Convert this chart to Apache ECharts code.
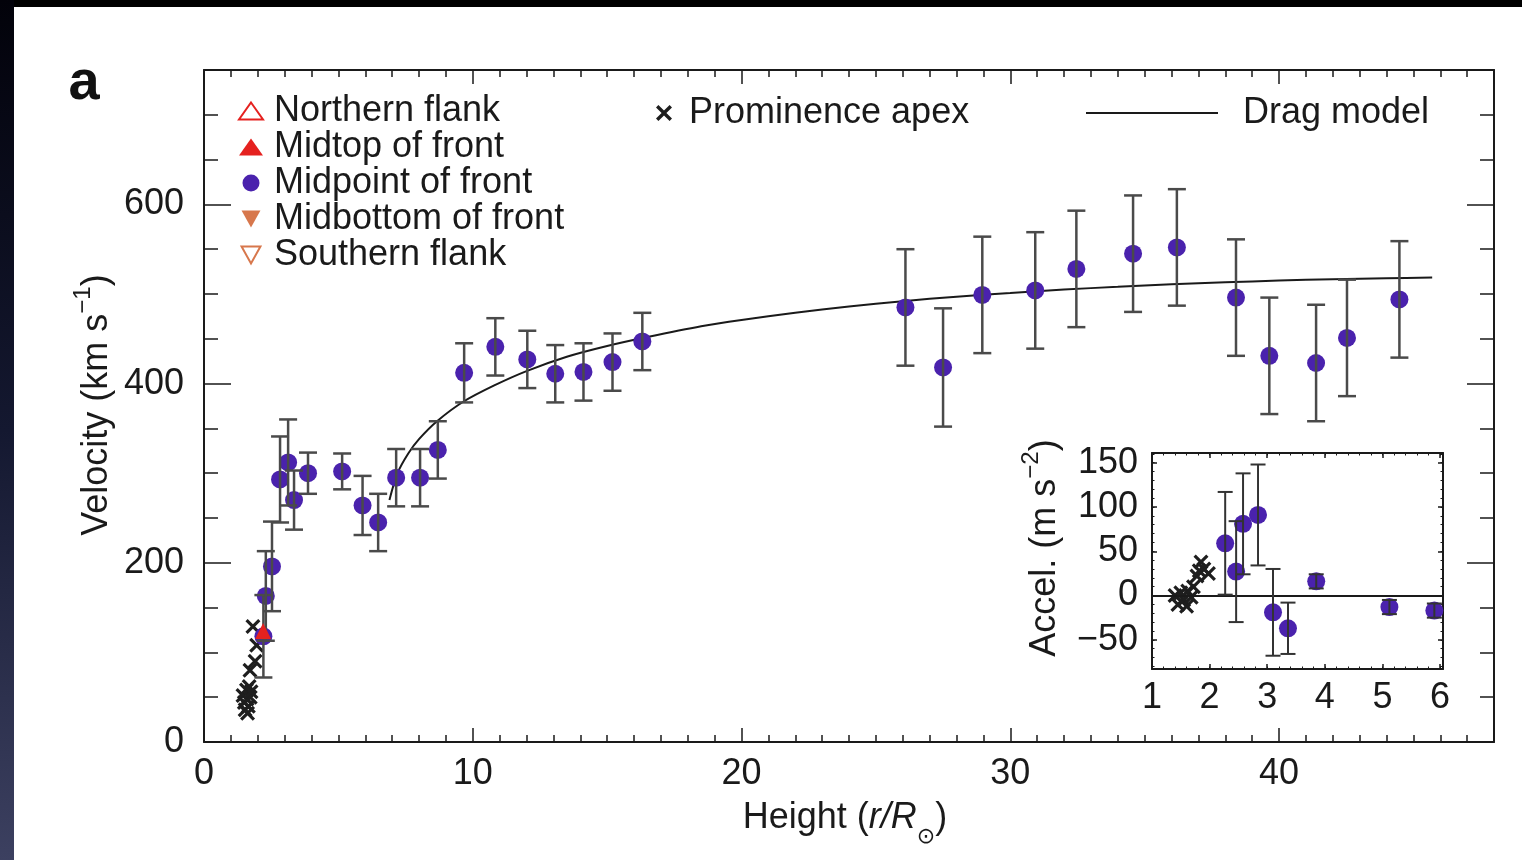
<!DOCTYPE html>
<html><head><meta charset="utf-8">
<script src="https://cdn.jsdelivr.net/npm/echarts@6/dist/echarts.min.js"></script>
<style>html,body{margin:0;padding:0;background:#fff}#c{width:1522px;height:860px}</style>
</head><body><div id="c"></div>
<script>
// ---------- data ----------
const midHeight = [2.21, 2.3, 2.53, 2.83, 3.13, 3.35, 3.87, 5.14, 5.9, 6.48, 7.15, 8.04, 8.7, 9.68, 10.84, 12.03, 13.07, 14.12, 15.2, 16.31, 26.1, 27.5, 28.96, 30.93, 32.46, 34.57, 36.2, 38.4, 39.64, 41.38, 42.53, 44.48];
const midVel    = [118, 163, 196, 293, 312, 270, 300, 302, 264, 245, 295, 295, 326, 412, 441, 427, 411, 413, 424, 447, 485, 418, 499, 504, 528, 545, 552, 496, 431, 423, 451, 494];
const midVelErr = [46, 50, 50, 48, 48, 33, 23, 20, 33, 32, 32, 32, 32, 33, 32, 32, 32, 32, 32, 32, 65, 66, 65, 65, 65, 65, 65, 65, 65, 65, 65, 65];

const midtopHeight = [2.2];
const midtopVel = [124];

const apexHeight = [1.45, 1.5, 1.53, 1.58, 1.6, 1.65, 1.68, 1.72, 1.75, 1.62, 1.71, 1.9, 1.96, 1.82];
const apexVel    = [52, 44, 36, 58, 48, 40, 62, 50, 56, 32, 80, 90, 108, 129];

const dragHeight = [6.9, 7.2, 7.6, 8.0, 8.67, 9.66, 10.8, 12.0, 13.5, 15.0, 16.5, 18.5, 20, 22, 24, 26, 28, 30, 32, 34, 36, 38, 40, 42, 44, 45.7];
const dragVel    = [270, 300, 322, 338, 358, 380, 398, 414, 430, 442, 452, 464, 471, 479, 486, 492, 497, 501, 505, 508, 511, 513, 515, 516.5, 517.5, 518.5];

const accHeight = [2.27, 2.46, 2.58, 2.84, 3.10, 3.36, 3.85, 5.12, 5.90];
const accVal    = [59, 27, 81, 91, -19, -37, 16, -13, -17];
const accErr    = [58, 57, 57, 57, 49, 29, 8, 8, 8];

const accApexHeight = [1.40, 1.45, 1.5, 1.55, 1.6, 1.62, 1.68, 1.72, 1.78, 1.85, 1.9, 1.98, 1.82];
const accApexVal    = [0, -10, 3, -5, -12, 5, -2, 10, 22, 38, 30, 25, 28];

const velTickLabels = [0, 200, 400, 600];
const heightTickLabels = [0, 10, 20, 30, 40];
const insetXTickLabels = [1, 2, 3, 4, 5, 6];
const insetYTickLabels = [-50, 0, 50, 100, 150];
const insetYMinorTicks = [-80, -70, -60, -50, -40, -30, -20, -10, 0, 10, 20, 30, 40, 50, 60, 70, 80, 90, 100, 110, 120, 130, 140, 150, 160];

// ---------- styling ----------
const FONT = "'Liberation Sans', Arial, Helvetica, sans-serif";
const INK = '#1a1a1a';
const PURPLE = '#4a22ad';
const RED = '#e5211f';
const ORANGE = '#d7774c';
const DOWN_TRI = 'path://M0,0L10,0L5,9Z';
const CROSS = 'path://M1.5,0L5,3.5L8.5,0L10,1.5L6.5,5L10,8.5L8.5,10L5,6.5L1.5,10L0,8.5L3.5,5L0,1.5Z';

const zip = (a, b) => a.map((v, i) => [v, b[i]]);
const zip3 = (a, b, c) => a.map((v, i) => [v, b[i], c[i]]);

function errRender(capW, lw, color) {
  return function (params, api) {
    const x = api.value(0), y = api.value(1), e = api.value(2);
    const t = api.coord([x, y + e]);
    const b = api.coord([x, y - e]);
    const st = { stroke: color, lineWidth: lw };
    return { type: 'group', children: [
      { type: 'line', shape: { x1: t[0], y1: t[1], x2: b[0], y2: b[1] }, style: st },
      { type: 'line', shape: { x1: t[0] - capW / 2, y1: t[1], x2: t[0] + capW / 2, y2: t[1] }, style: st },
      { type: 'line', shape: { x1: b[0] - capW / 2, y1: b[1], x2: b[0] + capW / 2, y2: b[1] }, style: st }
    ]};
  };
}

function ax(base, o) { return Object.assign({ type: 'value', splitLine: { show: false } }, base, o); }
const lineOn = { show: true, onZero: false, lineStyle: { color: INK, width: 2 } };
const lineOff = { show: false, onZero: false };
const noLabel = { show: false };
function ticks(len, extra) { return Object.assign({ show: true, inside: true, length: len, interval: 0, lineStyle: { color: INK, width: 1.5 } }, extra || {}); }

const mainX = { gridIndex: 0, min: 0, max: 48 };
const mainY = { gridIndex: 0, min: 0, max: 750 };
const insX = { gridIndex: 1, min: 1, max: 6.05 };
const insY = { gridIndex: 1, min: -83, max: 161 };

const labelStyle = { fontSize: 36, color: INK, fontFamily: FONT };

const xAxes = [
  ax(mainX, { position: 'bottom', interval: 1, axisLine: lineOn, axisTick: ticks(7),
    axisLabel: Object.assign({ show: true, margin: 14, formatter: v => heightTickLabels.indexOf(v) >= 0 ? String(v) : '' }, labelStyle) }),
  ax(mainX, { position: 'bottom', interval: 10, axisLine: lineOff, axisTick: ticks(14), axisLabel: noLabel }),
  ax(mainX, { position: 'top', interval: 1, axisLine: lineOn, axisTick: ticks(7), axisLabel: noLabel }),
  ax(mainX, { position: 'top', interval: 10, axisLine: lineOff, axisTick: ticks(14), axisLabel: noLabel }),
  ax(insX, { position: 'bottom', interval: 1, axisLine: lineOn, axisTick: ticks(5),
    axisLabel: Object.assign({ show: true, margin: 11, formatter: v => insetXTickLabels.indexOf(v) >= 0 ? String(v) : '' }, labelStyle) }),
  ax(insX, { position: 'top', interval: 1, axisLine: lineOn, axisTick: ticks(5), axisLabel: noLabel }),
  ax(insX, { position: 'bottom', interval: 0.2, axisLine: lineOff, axisTick: ticks(2.5, { lineStyle: { color: INK, width: 1 } }), axisLabel: noLabel }),
  ax(insX, { position: 'top', interval: 0.2, axisLine: lineOff, axisTick: ticks(2.5, { lineStyle: { color: INK, width: 1 } }), axisLabel: noLabel })
];
const yAxes = [
  ax(mainY, { position: 'left', interval: 50, axisLine: lineOn, axisTick: ticks(14),
    axisLabel: Object.assign({ show: true, margin: 20, formatter: v => velTickLabels.indexOf(v) >= 0 ? String(v) : '' }, labelStyle) }),
  ax(mainY, { position: 'left', interval: 200, axisLine: lineOff, axisTick: ticks(27), axisLabel: noLabel }),
  ax(mainY, { position: 'right', interval: 50, axisLine: lineOn, axisTick: ticks(14), axisLabel: noLabel }),
  ax(mainY, { position: 'right', interval: 200, axisLine: lineOff, axisTick: ticks(27), axisLabel: noLabel }),
  ax(insY, { position: 'left', axisLine: lineOn, axisTick: ticks(5, { customValues: insetYTickLabels }),
    axisLabel: Object.assign({ show: true, margin: 14, customValues: insetYTickLabels, formatter: v => v < 0 ? '\u2212' + Math.abs(v) : String(v) }, labelStyle) }),
  ax(insY, { position: 'right', axisLine: lineOn, axisTick: ticks(5, { customValues: insetYTickLabels }), axisLabel: noLabel }),
  ax(insY, { position: 'left', axisLine: lineOff, axisTick: ticks(2.5, { customValues: insetYMinorTicks, lineStyle: { color: INK, width: 1 } }), axisLabel: noLabel }),
  ax(insY, { position: 'right', axisLine: lineOff, axisTick: ticks(2.5, { customValues: insetYMinorTicks, lineStyle: { color: INK, width: 1 } }), axisLabel: noLabel })
];

const legendText = { fontSize: 36, lineHeight: 36, color: INK, fontFamily: FONT };

const option = {
  backgroundColor: '#ffffff',
  animation: false,
  grid: [
    { left: 204, top: 70, width: 1290, height: 672 },
    { left: 1152, top: 453, width: 291, height: 216 }
  ],
  xAxis: xAxes,
  yAxis: yAxes,
  legend: [
    { orient: 'vertical', left: 238, top: 93, padding: 0, itemGap: 0, itemWidth: 24, itemHeight: 17, selectedMode: false,
      data: ['Northern flank', 'Midtop of front', 'Midpoint of front', 'Midbottom of front', 'Southern flank'],
      textStyle: Object.assign({ padding: [0, 0, 0, 6] }, legendText) },
    { left: 656, top: 95, padding: 0, itemWidth: 24, itemHeight: 16, selectedMode: false,
      data: ['Prominence apex'], textStyle: Object.assign({ padding: [0, 0, 0, 8] }, legendText) },
    { left: 1086, top: 95, padding: 0, itemWidth: 132, itemHeight: 2, selectedMode: false,
      data: [{ name: 'Drag model', icon: 'rect' }], textStyle: Object.assign({ padding: [0, 0, 0, 20] }, legendText) }
  ],
  graphic: [
    { type: 'rect', left: 0, top: 0, shape: { width: 1522, height: 7 }, style: { fill: '#000' }, z: 100 },
    { type: 'rect', left: 0, top: 0, shape: { width: 14, height: 860 }, z: 100,
      style: { fill: new echarts.graphic.LinearGradient(0, 0, 0, 1, [{ offset: 0, color: '#02020a' }, { offset: 0.5, color: '#141830' }, { offset: 1, color: '#3c4060' }]) } },
    { type: 'text', x: 84, y: 84, style: { text: 'a', font: 'bold 56px ' + FONT, fill: '#111', align: 'center', verticalAlign: 'middle' } },
    { type: 'text', x: 93, y: 405, rotation: Math.PI / 2,
      style: { text: '{a|Velocity (km s}{s|\u22121}{a|)}', align: 'center', verticalAlign: 'middle',
        rich: { a: { fontSize: 36, fontFamily: FONT, fill: INK, lineHeight: 44, verticalAlign: 'bottom' },
                s: { fontSize: 24, fontFamily: FONT, fill: INK, lineHeight: 24, verticalAlign: 'top' } } } },
    { type: 'text', x: 845, y: 822,
      style: { text: '{a|Height (}{i|r/R}{b|\u2299}{a|)}', align: 'center', verticalAlign: 'middle',
        rich: { a: { fontSize: 36, fontFamily: FONT, fill: INK, lineHeight: 44, verticalAlign: 'top' },
                i: { fontSize: 36, fontFamily: FONT, fontStyle: 'italic', fill: INK, lineHeight: 44, verticalAlign: 'top' },
                b: { fontSize: 22, fontFamily: "'DejaVu Sans', sans-serif", fill: INK, lineHeight: 22, verticalAlign: 'bottom', padding: [0, 0, -4, 0] } } } },
    { type: 'text', x: 1041, y: 548, rotation: Math.PI / 2,
      style: { text: '{a|Accel. (m s}{s|\u22122}{a|)}', align: 'center', verticalAlign: 'middle',
        rich: { a: { fontSize: 36, fontFamily: FONT, fill: INK, lineHeight: 44, verticalAlign: 'bottom' },
                s: { fontSize: 24, fontFamily: FONT, fill: INK, lineHeight: 24, verticalAlign: 'top' } } } }
  ],
  series: [
    { name: 'Northern flank', type: 'scatter', xAxisIndex: 0, yAxisIndex: 0, data: [], symbol: 'triangle', symbolSize: 18, symbolKeepAspect: true,
      itemStyle: { color: '#fff', borderColor: RED, borderWidth: 2.5, opacity: 1 } },
    { name: 'Drag model', type: 'line', xAxisIndex: 0, yAxisIndex: 0, data: zip(dragHeight, dragVel), symbol: 'none', smooth: 0.3,
      lineStyle: { color: INK, width: 2 }, itemStyle: { color: INK }, z: 2 },
    { name: 'Prominence apex', type: 'scatter', xAxisIndex: 0, yAxisIndex: 0, data: zip(apexHeight, apexVel), symbol: CROSS, symbolSize: 15,
      itemStyle: { color: '#1e1e1e', opacity: 1 }, z: 3 },
    { name: 'Midpoint of front', type: 'scatter', xAxisIndex: 0, yAxisIndex: 0, data: zip(midHeight, midVel), symbol: 'circle', symbolSize: 18,
      itemStyle: { color: PURPLE, opacity: 1 }, z: 4 },
    { name: 'velErr', type: 'custom', xAxisIndex: 0, yAxisIndex: 0, data: zip3(midHeight, midVel, midVelErr), encode: { x: 0, y: 1 },
      renderItem: errRender(18, 2.5, '#4a4a4a'), z: 5, silent: true },
    { name: 'Midtop of front', type: 'scatter', xAxisIndex: 0, yAxisIndex: 0, data: zip(midtopHeight, midtopVel), symbol: 'triangle', symbolSize: 16, symbolKeepAspect: true,
      itemStyle: { color: RED, opacity: 1 }, z: 6 },
    { name: 'Midbottom of front', type: 'scatter', xAxisIndex: 0, yAxisIndex: 0, data: [], symbol: DOWN_TRI, symbolSize: 16, symbolKeepAspect: true,
      itemStyle: { color: ORANGE, opacity: 1 } },
    { name: 'Southern flank', type: 'scatter', xAxisIndex: 0, yAxisIndex: 0, data: [], symbol: DOWN_TRI, symbolSize: 18, symbolKeepAspect: true,
      itemStyle: { color: '#fff', borderColor: ORANGE, borderWidth: 2.5, opacity: 1 } },
    // inset
    { name: 'accApex', type: 'scatter', xAxisIndex: 4, yAxisIndex: 4, data: zip(accApexHeight, accApexVal), symbol: CROSS, symbolSize: 15,
      itemStyle: { color: '#1e1e1e', opacity: 1 }, z: 3,
      markLine: { silent: true, symbol: ['none', 'none'], label: { show: false }, lineStyle: { color: INK, width: 2, type: 'solid' }, data: [{ yAxis: 0 }] } },
    { name: 'accMid', type: 'scatter', xAxisIndex: 4, yAxisIndex: 4, data: zip(accHeight, accVal), symbol: 'circle', symbolSize: 18,
      itemStyle: { color: PURPLE, opacity: 1 }, z: 4 },
    { name: 'accErr', type: 'custom', xAxisIndex: 4, yAxisIndex: 4, data: zip3(accHeight, accVal, accErr), encode: { x: 0, y: 1 },
      renderItem: errRender(15, 2, '#333'), z: 5, silent: true }
  ]
};

const chart = echarts.init(document.getElementById('c'), null, { renderer: 'canvas' });
chart.setOption(option);
</script>
</body></html>
